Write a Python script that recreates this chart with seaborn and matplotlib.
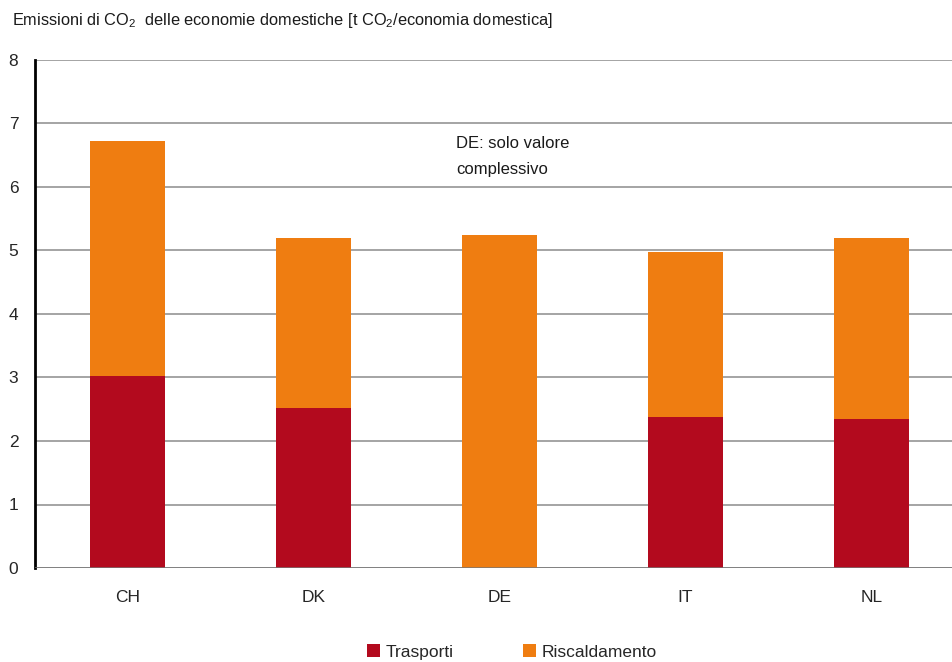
import matplotlib
matplotlib.use("Agg")
import matplotlib.pyplot as plt
from matplotlib.patches import Patch
import seaborn as sns
import numpy as np
import pandas as pd

# Household CO2 emissions per country [t CO2 / household]
paesi = ["CH", "DK", "DE", "IT", "NL"]
trasporti = [3.02, 2.52, 0.0, 2.38, 2.35]
riscaldamento = [3.70, 2.68, 5.24, 2.60, 2.85]
y_ticks = [0, 1, 2, 3, 4, 5, 6, 7, 8]

col_trasp = "#B30A1E"
col_risc = "#EF7D11"

sns.set_theme(style="white")
plt.rcParams["font.family"] = ["Liberation Sans Narrow", "Liberation Sans", "DejaVu Sans"]
plt.rcParams["mathtext.default"] = "regular"

totale = np.array(trasporti) + np.array(riscaldamento)
df = pd.DataFrame({"paese": paesi, "trasporti": trasporti,
                   "riscaldamento": riscaldamento, "totale": totale})

fig = plt.figure(figsize=(9.53, 6.62), dpi=100)
W, H = 953, 662
ax = fig.add_axes([35 / W, (H - 568) / H, (952 - 35) / W, (568 - 60) / H])

# stacked bars: the full height in orange, the transport share in red over it
sns.barplot(data=df, x="paese", y="totale", color=col_risc, width=0.403,
            saturation=1, ax=ax, linewidth=0, zorder=3)
sns.barplot(data=df, x="paese", y="trasporti", color=col_trasp, width=0.403,
            saturation=1, ax=ax, linewidth=0, zorder=4)

ax.set_xlim(-0.497, 4.433)
ax.set_ylim(0, 8)
ax.set_yticks(y_ticks)
ax.set_yticklabels([str(t) for t in y_ticks], fontsize=12.5)
ax.tick_params(axis="x", labelsize=12.5, length=0, pad=16)
ax.tick_params(axis="y", length=0, pad=12)
ax.set_xlabel("")
ax.set_ylabel("")

ax.yaxis.grid(True, color="#8c8c8c", linewidth=1.1, zorder=0)
ax.set_axisbelow(True)
for s in ["top", "right", "bottom"]:
    ax.spines[s].set_visible(False)
ax.spines["left"].set_color("black")
ax.spines["left"].set_linewidth(2)
ax.axhline(0, color="#777777", linewidth=1.8, zorder=5)

# note on the DE bar
ax.text(1.766, 6.69, "DE: solo valore", fontsize=12,
        ha="left", va="center", color="#1a1a1a")
ax.text(1.766, 6.27, "complessivo", fontsize=12,
        ha="left", va="center", color="#1a1a1a")

fig.text(12 / W, 1 - 21 / H,
         "Emissioni di CO$_2$  delle economie domestiche [t CO$_2$/economia domestica]",
         fontsize=11.8, ha="left", va="center", color="#1a1a1a")

handles = [Patch(facecolor=col_trasp, edgecolor="none", label="Trasporti"),
           Patch(facecolor=col_risc, edgecolor="none", label="Riscaldamento")]
fig.legend(handles=handles, loc="center", bbox_to_anchor=(512 / W, 1 - 652 / H),
           ncol=2, frameon=False, fontsize=12.5, handlelength=0.75, handleheight=0.75,
           handletextpad=0.3, columnspacing=4.0)

fig.savefig("out.png", dpi=100)
